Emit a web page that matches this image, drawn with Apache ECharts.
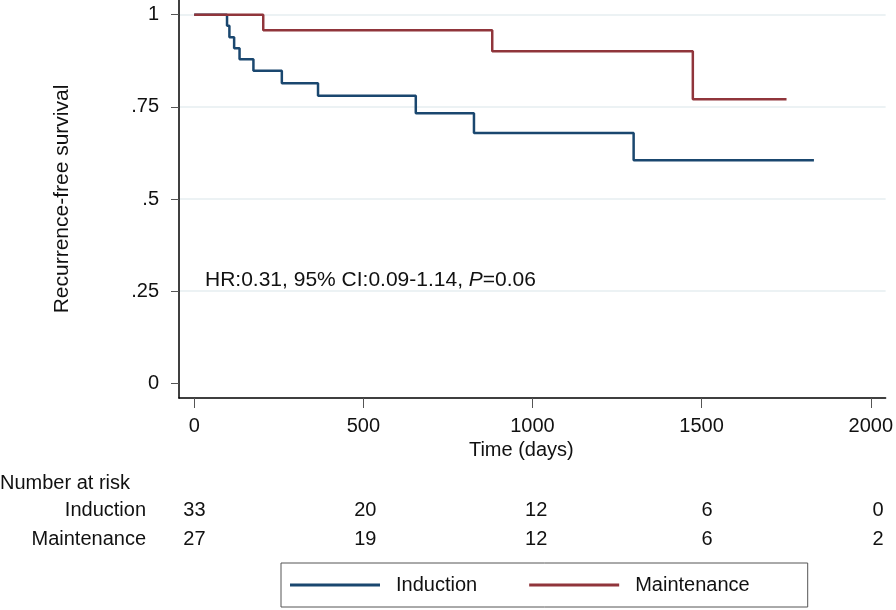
<!DOCTYPE html>
<html>
<head>
<meta charset="utf-8">
<script src="https://cdn.jsdelivr.net/npm/echarts@6/dist/echarts.min.js"></script>
<style>html,body{margin:0;padding:0;background:#fff}#c{width:896px;height:610px}</style>
</head>
<body>
<div id="c"></div>
<script>
// ---- data ----
const inductionTimes = [0, 97, 104, 118, 134, 175, 259, 366, 655, 827, 1299, 1832];
const inductionSurv  = [1, 0.970, 0.939, 0.909, 0.879, 0.848, 0.814, 0.780, 0.733, 0.679, 0.605, 0.605];
const maintenanceTimes = [0, 204, 881, 1474, 1751];
const maintenanceSurv  = [1, 0.958, 0.901, 0.771, 0.771];
const xTicks = [0, 500, 1000, 1500, 2000];
const yTicks = [0, 0.25, 0.5, 0.75, 1];
const yTickLabels = ['0', '.25', '.5', '.75', '1'];
const riskTimes = [0, 500, 1000, 1500, 2000];
const riskInduction = [33, 20, 12, 6, 0];
const riskMaintenance = [27, 19, 12, 6, 2];
const groupNames = ['Induction', 'Maintenance'];
const hrText = 'HR:0.31, 95% CI:0.09-1.14, {i|P}=0.06';

// ---- chart ----
const FONT = 'Liberation Sans, Arial, Helvetica, sans-serif';
const BLUE = '#1a476f', RED = '#90353b', GRID = '#e6eef1', INK = '#111';
const xMin = -45, xMax = 2044;

const zip = (a, b) => a.map((v, i) => [v, b[i]]);
const riskData = [];
riskTimes.forEach((t, i) => {
  riskData.push([t, groupNames[0], riskInduction[i]]);
  riskData.push([t, groupNames[1], riskMaintenance[i]]);
});

const chart = echarts.init(document.getElementById('c'), null, {renderer: 'canvas'});
chart.setOption({
  animation: false,
  backgroundColor: '#fff',
  textStyle: {fontFamily: FONT},
  title: {
    text: 'Number at risk', left: 0, top: 473, padding: 0,
    textStyle: {fontFamily: FONT, fontSize: 20, fontWeight: 'normal', color: INK}
  },
  grid: [
    {left: 179, right: 3, top: 0, bottom: 212, containLabel: false},
    {left: 179, right: 3, top: 496, height: 58, containLabel: false}
  ],
  xAxis: [
    {
      type: 'value', gridIndex: 0, min: xMin, max: xMax,
      name: 'Time (days)', nameLocation: 'middle', nameGap: 37,
      nameTextStyle: {fontFamily: FONT, fontSize: 20, color: INK, padding: [0, 22, 0, 0]},
      axisLine: {show: true, onZero: false, lineStyle: {color: '#000', width: 1.5}},
      axisTick: {show: true, customValues: xTicks, length: 10, lineStyle: {color: '#555', width: 1}},
      axisLabel: {customValues: xTicks, fontFamily: FONT, fontSize: 20, color: INK, margin: 18,
                  formatter: v => String(v)},
      splitLine: {show: false}
    },
    {type: 'value', gridIndex: 1, min: xMin, max: xMax, show: false}
  ],
  yAxis: [
    {
      type: 'value', gridIndex: 0, min: -0.04, max: 1.04,
      name: 'Recurrence-free survival', nameLocation: 'middle', nameGap: 106, nameRotate: 90,
      nameTextStyle: {fontFamily: FONT, fontSize: 21, color: INK},
      axisLine: {show: true, onZero: false, lineStyle: {color: '#000', width: 1.5}},
      axisTick: {show: true, customValues: yTicks, length: 8, lineStyle: {color: '#555', width: 1}},
      axisLabel: {
        customValues: yTicks, fontFamily: FONT, fontSize: 20, color: INK, margin: 20,
        formatter: v => { const i = yTicks.indexOf(v); return i >= 0 ? yTickLabels[i] : ''; }
      },
      splitLine: {show: true, lineStyle: {color: ['rgba(0,0,0,0)', GRID, GRID, GRID, GRID], width: 1.5}}
    },
    {
      type: 'category', gridIndex: 1, data: groupNames, inverse: true,
      axisLine: {show: false}, axisTick: {show: false}, splitLine: {show: false},
      axisLabel: {fontFamily: FONT, fontSize: 20, color: INK, margin: 33}
    }
  ],
  legend: {
    data: groupNames, left: 281, top: 563, orient: 'horizontal',
    padding: [12, 58, 12, 9], borderColor: '#555', borderWidth: 1,
    icon: 'rect', itemWidth: 90, itemHeight: 3, itemGap: 52,
    textStyle: {fontFamily: FONT, fontSize: 20, color: INK, padding: [0, 0, 0, 11]}
  },
  graphic: [
    {
      type: 'text', left: 205, top: 270,
      style: {
        text: hrText, fontFamily: FONT, fontSize: 21, fill: INK,
        rich: {i: {fontStyle: 'italic', fontFamily: FONT, fontSize: 21, fill: INK}}
      }
    }
  ],
  series: [
    {
      name: groupNames[0], type: 'line', step: 'end', xAxisIndex: 0, yAxisIndex: 0,
      data: zip(inductionTimes, inductionSurv), symbol: 'none',
      lineStyle: {color: BLUE, width: 2.5}, itemStyle: {color: BLUE}
    },
    {
      name: groupNames[1], type: 'line', step: 'end', xAxisIndex: 0, yAxisIndex: 0,
      data: zip(maintenanceTimes, maintenanceSurv), symbol: 'none',
      lineStyle: {color: RED, width: 2.5}, itemStyle: {color: RED}
    },
    {
      type: 'scatter', xAxisIndex: 1, yAxisIndex: 1, silent: true,
      data: riskData, symbolSize: 0, itemStyle: {color: '#fff', opacity: 1},
      label: {show: true, position: 'inside', formatter: p => String(p.value[2]),
              fontFamily: FONT, fontSize: 20, color: INK, opacity: 1,
              textBorderWidth: 0, textBorderColor: 'transparent'}
    }
  ]
});
</script>
</body>
</html>
